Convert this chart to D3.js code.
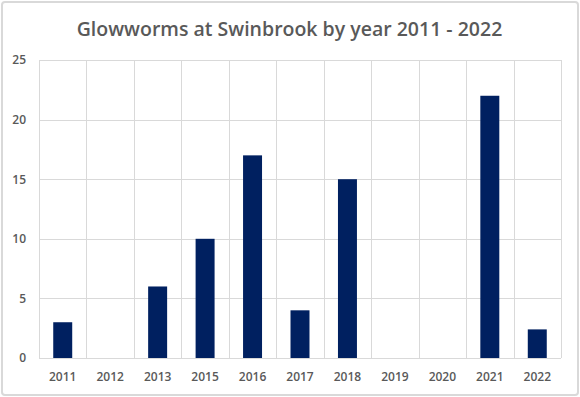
<!DOCTYPE html>
<html>
<head>
<meta charset="utf-8">
<script src="https://cdn.jsdelivr.net/npm/d3@7"></script>
<style>
  body { margin: 0; background: #fff; }
  svg { display: block; }
</style>
</head>
<body>
<div id="chart"></div>
<script>
// data
var years = ["2011", "2012", "2013", "2015", "2016", "2017", "2018", "2019", "2020", "2021", "2022"];
var counts = [3, 0, 6, 10, 17, 4, 15, 0, 0, 22, 2.4];
var yTicks = [0, 5, 10, 15, 20, 25];
var chartTitle = "Glowworms at Swinbrook by year 2011 - 2022";

var width = 580, height = 397;
var margin = {top: 60, right: 19, bottom: 39, left: 39};
var innerW = width - margin.left - margin.right,
    innerH = height - margin.top - margin.bottom;

var svg = d3.select("#chart")
  .append("svg")
    .attr("width", width)
    .attr("height", height);

// outer chart border
svg.append("rect")
  .attr("x", 2).attr("y", 2)
  .attr("width", width - 4).attr("height", height - 4)
  .attr("rx", 3)
  .style("fill", "#fff")
  .style("stroke", "#d9d9d9")
  .style("stroke-width", "2px");

var g = svg.append("g")
  .attr("transform", "translate(" + margin.left + "," + margin.top + ")");

var x = d3.scaleBand()
  .domain(years)
  .range([0, innerW])
  .paddingInner(0.6)
  .paddingOuter(0.3);

var y = d3.scaleLinear()
  .domain([0, 25])
  .range([innerH, 0]);

// horizontal gridlines
g.append("g")
  .selectAll("line")
  .data(yTicks)
  .enter()
  .append("line")
    .attr("x1", 0).attr("x2", innerW)
    .attr("y1", function(d) { return Math.round(y(d)) + 0.5; })
    .attr("y2", function(d) { return Math.round(y(d)) + 0.5; })
    .style("stroke", "#d9d9d9")
    .style("stroke-width", "1px");

// vertical gridlines between categories
var bounds = d3.range(years.length + 1);
g.append("g")
  .selectAll("line")
  .data(bounds)
  .enter()
  .append("line")
    .attr("x1", function(i) { return Math.round(i * x.step()) + 0.5; })
    .attr("x2", function(i) { return Math.round(i * x.step()) + 0.5; })
    .attr("y1", 0).attr("y2", innerH)
    .style("stroke", "#d9d9d9")
    .style("stroke-width", "1px");

// bars
g.selectAll(".bar")
  .data(counts)
  .enter()
  .append("rect")
    .attr("class", "bar")
    .attr("x", function(d, i) { return x(years[i]); })
    .attr("y", function(d) { return y(d); })
    .attr("width", x.bandwidth())
    .attr("height", function(d) { return innerH - y(d); })
    .style("fill", "#002060");

// axes
var xAxis = g.append("g")
  .attr("transform", "translate(0," + innerH + ")")
  .call(d3.axisBottom(x).tickSize(0).tickPadding(14));
xAxis.select(".domain").remove();

var yAxis = g.append("g")
  .call(d3.axisLeft(y).tickValues(yTicks).tickSize(0).tickPadding(13));
yAxis.select(".domain").remove();

svg.selectAll(".tick text")
  .style("font-family", "'Open Sans', sans-serif")
  .style("font-weight", "600")
  .style("font-size", "12px")
  .style("fill", "#595959");

// title
svg.append("text")
  .attr("x", 289.5)
  .attr("y", 36)
  .attr("text-anchor", "middle")
  .style("font-family", "'Open Sans', sans-serif")
  .style("font-weight", "600")
  .style("font-size", "19.5px")
  .style("fill", "#595959")
  .text(chartTitle);
</script>
</body>
</html>
